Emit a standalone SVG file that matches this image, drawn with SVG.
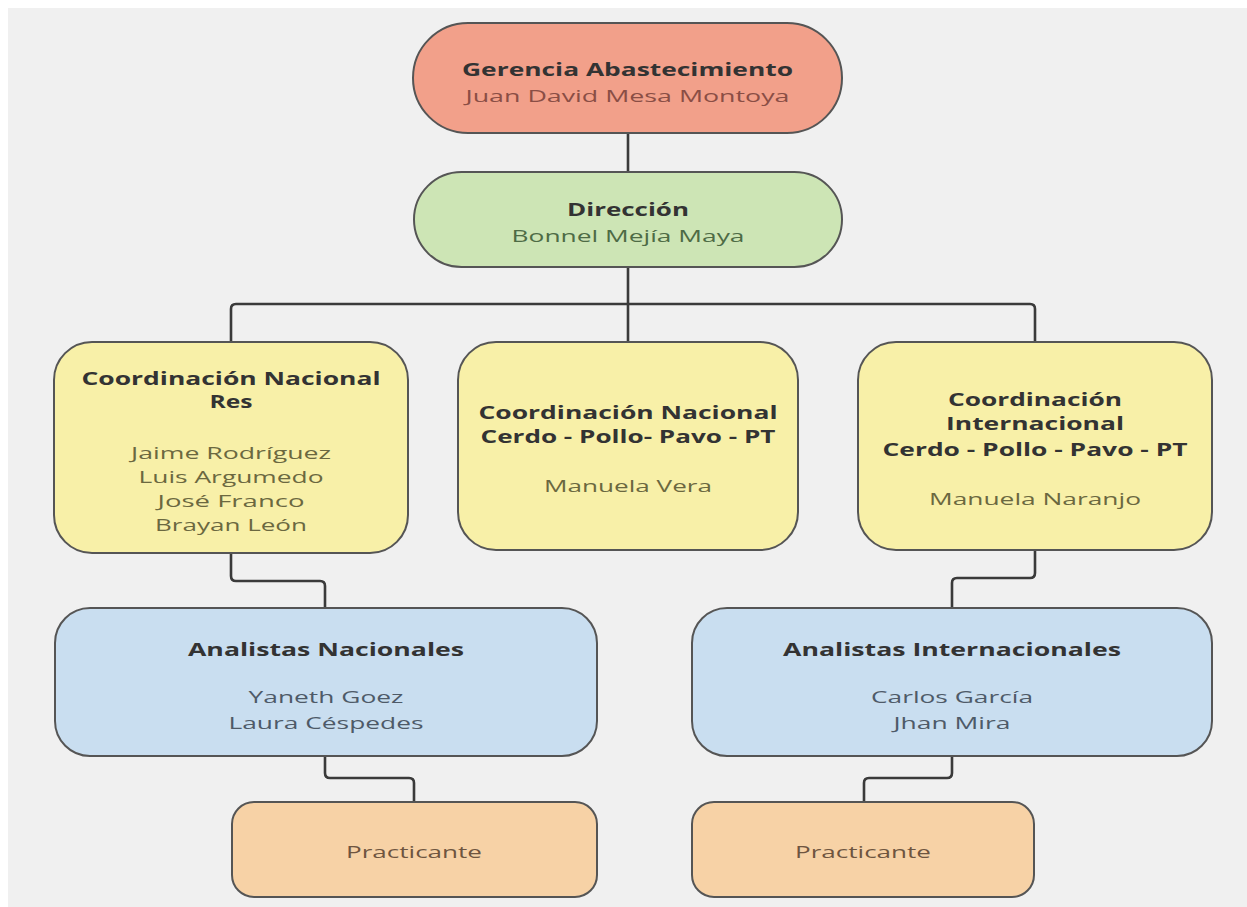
<svg xmlns="http://www.w3.org/2000/svg" width="1247" height="907" viewBox="0 0 1247 907">
<style>
.bx{stroke:#555;stroke-width:2}
.t{font-family:"Open Sans","Noto Sans","Liberation Sans",sans-serif;font-size:17px;text-anchor:middle}
.b{font-weight:bold;fill:#333}
.c{fill:none;stroke:#3a3a3a;stroke-width:2.6;stroke-linejoin:round}
</style>
<rect x="0" y="0" width="1247" height="907" fill="#ffffff"/>
<rect x="8" y="8" width="1239" height="899" fill="#f0f0f0"/>
<g id="connectors">
<path class="c" d="M628 133V172"/>
<path class="c" d="M628 267V342"/>
<path class="c" d="M231 342V309Q231 304 236 304H1030Q1035 304 1035 309V342"/>
<path class="c" d="M231 553V576Q231 581 236 581H320Q325 581 325 586V608"/>
<path class="c" d="M1035 550V573Q1035 578 1030 578H957Q952 578 952 583V608"/>
<path class="c" d="M325 756V773Q325 778 330 778H409Q414 778 414 783V802"/>
<path class="c" d="M952 756V773Q952 778 947 778H869Q864 778 864 783V802"/>
</g>
<g id="gerencia">
<rect class="bx" x="413" y="23" width="429" height="110" rx="55" fill="#f2a08a"/>
<text class="t b" x="627.5" y="76" textLength="331" lengthAdjust="spacingAndGlyphs">Gerencia Abastecimiento</text>
<text class="t" x="627.5" y="102" fill="#8a4e45" textLength="324" lengthAdjust="spacingAndGlyphs">Juan David Mesa Montoya</text>
</g>
<g id="direccion">
<rect class="bx" x="414" y="172" width="428" height="95" rx="47.5" fill="#cde5b5"/>
<text class="t b" x="628" y="216" textLength="122" lengthAdjust="spacingAndGlyphs">Dirección</text>
<text class="t" x="628" y="242" fill="#4e6b45" textLength="233" lengthAdjust="spacingAndGlyphs">Bonnel Mejía Maya</text>
</g>
<g id="coord-res">
<rect class="bx" x="54" y="342" width="354" height="211" rx="38" fill="#f8f0a8"/>
<text class="t b" x="231" y="385" textLength="299" lengthAdjust="spacingAndGlyphs">Coordinación Nacional</text>
<text class="t b" x="231" y="408" textLength="43" lengthAdjust="spacingAndGlyphs">Res</text>
<text class="t" x="231" y="459" fill="#6b6840" textLength="200" lengthAdjust="spacingAndGlyphs">Jaime Rodríguez</text>
<text class="t" x="231" y="483" fill="#6b6840" textLength="185" lengthAdjust="spacingAndGlyphs">Luis Argumedo</text>
<text class="t" x="231" y="507" fill="#6b6840" textLength="147" lengthAdjust="spacingAndGlyphs">José Franco</text>
<text class="t" x="231" y="531" fill="#6b6840" textLength="152" lengthAdjust="spacingAndGlyphs">Brayan León</text>
</g>
<g id="coord-nacional">
<rect class="bx" x="458" y="342" width="340" height="208" rx="38" fill="#f8f0a8"/>
<text class="t b" x="628" y="419" textLength="299" lengthAdjust="spacingAndGlyphs">Coordinación Nacional</text>
<text class="t b" x="628" y="443" textLength="295" lengthAdjust="spacingAndGlyphs">Cerdo - Pollo- Pavo - PT</text>
<text class="t" x="628" y="492" fill="#6b6840" textLength="168" lengthAdjust="spacingAndGlyphs">Manuela Vera</text>
</g>
<g id="coord-internacional">
<rect class="bx" x="858" y="342" width="354" height="208" rx="38" fill="#f8f0a8"/>
<text class="t b" x="1035" y="406" textLength="174" lengthAdjust="spacingAndGlyphs">Coordinación</text>
<text class="t b" x="1035" y="430" textLength="178" lengthAdjust="spacingAndGlyphs">Internacional</text>
<text class="t b" x="1035" y="456" textLength="305" lengthAdjust="spacingAndGlyphs">Cerdo - Pollo - Pavo - PT</text>
<text class="t" x="1035" y="505" fill="#6b6840" textLength="212" lengthAdjust="spacingAndGlyphs">Manuela Naranjo</text>
</g>
<g id="analistas-nacionales">
<rect class="bx" x="55" y="608" width="542" height="148" rx="35" fill="#c9def0"/>
<text class="t b" x="326" y="656" textLength="276" lengthAdjust="spacingAndGlyphs">Analistas Nacionales</text>
<text class="t" x="326" y="703" fill="#4e5a68" textLength="155" lengthAdjust="spacingAndGlyphs">Yaneth Goez</text>
<text class="t" x="326" y="729" fill="#4e5a68" textLength="195" lengthAdjust="spacingAndGlyphs">Laura Céspedes</text>
</g>
<g id="analistas-internacionales">
<rect class="bx" x="692" y="608" width="520" height="148" rx="35" fill="#c9def0"/>
<text class="t b" x="952" y="656" textLength="338" lengthAdjust="spacingAndGlyphs">Analistas Internacionales</text>
<text class="t" x="952" y="703" fill="#4e5a68" textLength="162" lengthAdjust="spacingAndGlyphs">Carlos García</text>
<text class="t" x="952" y="729" fill="#4e5a68" textLength="117" lengthAdjust="spacingAndGlyphs">Jhan Mira</text>
</g>
<g id="practicante-nacional">
<rect class="bx" x="232" y="802" width="365" height="95" rx="22" fill="#f7d2a6"/>
<text class="t" x="414" y="858" fill="#6e5540" textLength="136" lengthAdjust="spacingAndGlyphs">Practicante</text>
</g>
<g id="practicante-internacional">
<rect class="bx" x="692" y="802" width="342" height="95" rx="22" fill="#f7d2a6"/>
<text class="t" x="863" y="858" fill="#6e5540" textLength="136" lengthAdjust="spacingAndGlyphs">Practicante</text>
</g>
</svg>
